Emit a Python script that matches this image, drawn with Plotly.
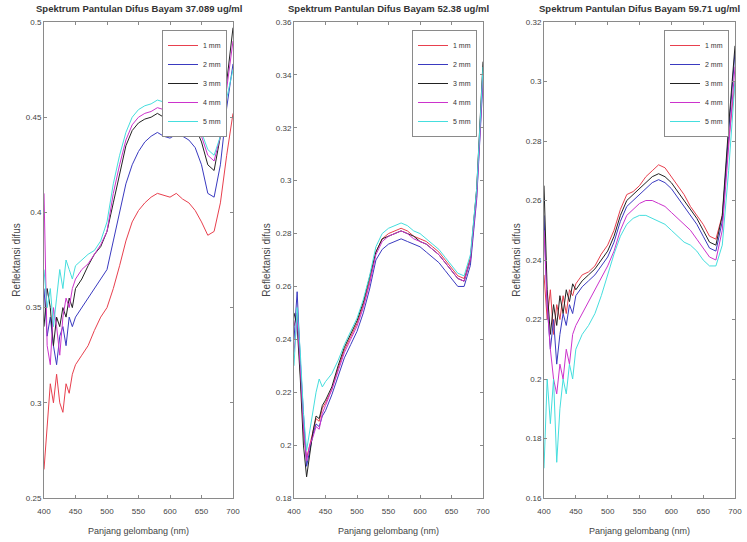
import plotly.graph_objects as go

wavelength = [400, 405, 410, 415, 420, 425, 430, 435, 440, 445, 450, 460, 470, 480, 490, 500,
              510, 520, 530, 540, 550, 560, 570, 580, 590, 600, 610, 620, 630, 640, 650, 660,
              670, 680, 690, 700]
series_names = ["1 mm", "2 mm", "3 mm", "4 mm", "5 mm"]
titles = ["Spektrum Pantulan Difus Bayam 37.089 ug/ml",
          "Spektrum Pantulan Difus Bayam 52.38 ug/ml",
          "Spektrum Pantulan Difus Bayam 59.71 ug/ml"]

# Panel 1 (37.089 ug/ml)
p1_1mm = [0.265, 0.29, 0.31, 0.30, 0.315, 0.30, 0.295, 0.31, 0.305, 0.315, 0.32, 0.325, 0.33, 0.338, 0.345, 0.35,
          0.36, 0.372, 0.385, 0.395, 0.401, 0.405, 0.408, 0.41, 0.409, 0.408, 0.41, 0.407, 0.405, 0.401, 0.395, 0.388,
          0.39, 0.405, 0.43, 0.452]
p1_2mm = [0.36, 0.335, 0.345, 0.33, 0.32, 0.335, 0.34, 0.33, 0.345, 0.34, 0.345, 0.35, 0.355, 0.36, 0.365, 0.37,
          0.385, 0.40, 0.415, 0.425, 0.432, 0.437, 0.44, 0.442, 0.44, 0.439, 0.441, 0.44, 0.438, 0.434, 0.425, 0.41,
          0.408, 0.425, 0.455, 0.478]
p1_3mm = [0.34, 0.36, 0.35, 0.33, 0.345, 0.34, 0.35, 0.345, 0.355, 0.35, 0.36, 0.365, 0.372, 0.378, 0.382, 0.39,
          0.405, 0.42, 0.435, 0.443, 0.447, 0.449, 0.45, 0.452, 0.45, 0.449, 0.451, 0.45, 0.448, 0.445, 0.437, 0.425,
          0.422, 0.44, 0.47, 0.497]
p1_4mm = [0.41, 0.33, 0.32, 0.35, 0.34, 0.325, 0.345, 0.355, 0.35, 0.36, 0.365, 0.37, 0.373, 0.378, 0.383, 0.39,
          0.41, 0.425, 0.438, 0.446, 0.45, 0.452, 0.453, 0.455, 0.454, 0.452, 0.455, 0.453, 0.451, 0.448, 0.44, 0.43,
          0.427, 0.44, 0.465, 0.49]
p1_5mm = [0.37, 0.35, 0.36, 0.34, 0.355, 0.37, 0.36, 0.375, 0.37, 0.365, 0.372, 0.375, 0.378, 0.38, 0.385, 0.395,
          0.415, 0.43, 0.442, 0.45, 0.454, 0.456, 0.457, 0.459, 0.458, 0.457, 0.458, 0.457, 0.455, 0.45, 0.442, 0.433,
          0.43, 0.44, 0.46, 0.475]

# Panel 2 (52.38 ug/ml)
p2_1mm = [0.245, 0.25, 0.228, 0.205, 0.195, 0.20, 0.206, 0.21, 0.209, 0.214, 0.216, 0.221, 0.229, 0.236, 0.241, 0.246,
          0.253, 0.262, 0.273, 0.278, 0.28, 0.281, 0.282, 0.281, 0.279, 0.278, 0.277, 0.275, 0.273, 0.27, 0.267, 0.264,
          0.263, 0.271, 0.296, 0.342]
p2_2mm = [0.24, 0.258, 0.232, 0.21, 0.192, 0.198, 0.204, 0.208, 0.207, 0.211, 0.213, 0.219, 0.226, 0.233, 0.238, 0.243,
          0.25, 0.259, 0.27, 0.274, 0.276, 0.277, 0.278, 0.277, 0.276, 0.275, 0.273, 0.271, 0.269, 0.266, 0.263, 0.26,
          0.26, 0.268, 0.293, 0.338]
p2_3mm = [0.25, 0.245, 0.225, 0.2, 0.188, 0.197, 0.205, 0.211, 0.21, 0.215, 0.217, 0.222, 0.23, 0.237, 0.242, 0.247,
          0.254, 0.263, 0.273, 0.278, 0.279, 0.28, 0.281, 0.28, 0.279, 0.277, 0.276, 0.274, 0.272, 0.269, 0.266, 0.263,
          0.262, 0.27, 0.297, 0.345]
p2_4mm = [0.235, 0.248, 0.23, 0.207, 0.194, 0.2, 0.203, 0.207, 0.206, 0.212, 0.215, 0.221, 0.228, 0.235, 0.24, 0.245,
          0.252, 0.261, 0.272, 0.277, 0.279, 0.28, 0.281, 0.28, 0.278, 0.277, 0.276, 0.274, 0.272, 0.269, 0.266, 0.263,
          0.262, 0.27, 0.294, 0.34]
p2_5mm = [0.23, 0.252, 0.235, 0.212, 0.198, 0.205, 0.212, 0.22, 0.225, 0.222, 0.224, 0.227, 0.232, 0.238, 0.243, 0.248,
          0.255, 0.264, 0.275, 0.28, 0.282, 0.283, 0.284, 0.283, 0.281, 0.28, 0.278, 0.276, 0.274, 0.271, 0.268, 0.265,
          0.264, 0.272, 0.297, 0.343]

# Panel 3 (59.71 ug/ml)
p3_1mm = [0.235, 0.22, 0.23, 0.215, 0.225, 0.22, 0.228, 0.222, 0.23, 0.228, 0.232, 0.235, 0.236, 0.238, 0.242, 0.245,
          0.25, 0.257, 0.262, 0.263, 0.265, 0.268, 0.27, 0.272, 0.271, 0.268, 0.265, 0.262, 0.258, 0.255, 0.252, 0.248,
          0.247, 0.255, 0.28, 0.30]
p3_2mm = [0.255, 0.225, 0.21, 0.22, 0.205, 0.215, 0.222, 0.218, 0.225, 0.222, 0.228, 0.231, 0.233, 0.235, 0.238, 0.241,
          0.246, 0.253, 0.258, 0.26, 0.262, 0.264, 0.266, 0.267, 0.266, 0.264, 0.261, 0.258, 0.255, 0.252, 0.248, 0.244,
          0.243, 0.253, 0.283, 0.31]
p3_3mm = [0.265, 0.23, 0.215, 0.225, 0.218, 0.228, 0.222, 0.23, 0.226, 0.232, 0.23, 0.233, 0.235, 0.237, 0.24, 0.243,
          0.248, 0.255, 0.26, 0.262, 0.264, 0.266, 0.268, 0.269, 0.268, 0.266, 0.263, 0.26, 0.257, 0.254, 0.25, 0.246,
          0.245, 0.255, 0.285, 0.312]
p3_4mm = [0.25, 0.225, 0.21, 0.2, 0.195, 0.205, 0.2, 0.21, 0.205, 0.215, 0.218, 0.222, 0.226, 0.23, 0.234, 0.238,
          0.243, 0.25, 0.255, 0.257, 0.259, 0.26, 0.26, 0.259, 0.258, 0.256, 0.254, 0.252, 0.25, 0.247, 0.244, 0.241,
          0.24, 0.25, 0.278, 0.305]
p3_5mm = [0.17, 0.2, 0.185, 0.2, 0.172, 0.19, 0.2, 0.195, 0.205, 0.2, 0.21, 0.215, 0.218, 0.222, 0.228, 0.235,
          0.242, 0.248, 0.252, 0.254, 0.255, 0.255, 0.254, 0.253, 0.252, 0.25, 0.248, 0.246, 0.245, 0.243, 0.24, 0.238,
          0.238, 0.245, 0.27, 0.30]

panels = [
    [p1_1mm, p1_2mm, p1_3mm, p1_4mm, p1_5mm],
    [p2_1mm, p2_2mm, p2_3mm, p2_4mm, p2_5mm],
    [p3_1mm, p3_2mm, p3_3mm, p3_4mm, p3_5mm],
]
y_ranges = [(0.25, 0.5), (0.18, 0.36), (0.16, 0.32)]
y_ticks = [
    [0.25, 0.3, 0.35, 0.4, 0.45, 0.5],
    [0.18, 0.2, 0.22, 0.24, 0.26, 0.28, 0.3, 0.32, 0.34, 0.36],
    [0.16, 0.18, 0.2, 0.22, 0.24, 0.26, 0.28, 0.3, 0.32],
]
x_ticks = [400, 450, 500, 550, 600, 650, 700]

colors = ["#e8404e", "#3a3ac0", "#222222", "#cc33cc", "#45dede"]

W, H = 747, 542
x_px = [(44, 233), (294, 483), (544, 735)]
y_top, y_bot = 22, 498
ydom = [1 - y_bot / H, 1 - y_top / H]
FONT = "Liberation Sans, Arial, sans-serif"

fig = go.Figure()
legend_keys = ["legend", "legend2", "legend3"]
for i, pdata in enumerate(panels):
    xa = "x" if i == 0 else f"x{i+1}"
    ya = "y" if i == 0 else f"y{i+1}"
    for j, vals in enumerate(pdata):
        fig.add_trace(go.Scatter(
            x=wavelength, y=vals, mode="lines", name=series_names[j],
            line=dict(color=colors[j], width=1),
            xaxis=xa, yaxis=ya, legend=legend_keys[i], showlegend=True))

axis_common = dict(showgrid=False, zeroline=False, showline=True, linecolor="#8a8a8a",
                   linewidth=1, mirror="ticks", ticks="inside", ticklen=3, tickcolor="#8a8a8a",
                   tickfont=dict(family=FONT, size=8, color="#444444"))
layout = dict(width=W, height=H, paper_bgcolor="white", plot_bgcolor="white",
              margin=dict(l=0, r=0, t=0, b=0, autoexpand=False))
annotations = []
for i in range(3):
    xk = "xaxis" if i == 0 else f"xaxis{i+1}"
    yk = "yaxis" if i == 0 else f"yaxis{i+1}"
    ya = "y" if i == 0 else f"y{i+1}"
    xa = "x" if i == 0 else f"x{i+1}"
    x0, x1 = x_px[i]
    layout[xk] = dict(domain=[x0 / W, x1 / W], range=[400, 700], tickvals=x_ticks,
                      anchor=ya, ticklabelstandoff=5, automargin=False,
                      title=dict(text="Panjang gelombang (nm)",
                                 font=dict(family=FONT, size=9, color="#444444"),
                                 standoff=13),
                      **axis_common)
    layout[yk] = dict(domain=ydom, range=list(y_ranges[i]), tickvals=y_ticks[i],
                      ticktext=[f"{v:g}" for v in y_ticks[i]], automargin=False,
                      anchor=xa, title=dict(text="Reflektansi difus",
                                            font=dict(family=FONT, size=10, color="#444444"),
                                            standoff=3),
                      **axis_common)
    annotations.append(dict(text=f"<b>{titles[i]}</b>", x=(x0 + x1) / 2 / W, y=1 - 9 / H,
                            xref="paper", yref="paper", showarrow=False,
                            xanchor="center", yanchor="middle",
                            font=dict(family=FONT, size=9.5, color="#333333")))
    layout[legend_keys[i]] = dict(x=(x1 - 6) / W, y=1 - 30 / H, xanchor="right", yanchor="top",
                                  bgcolor="white", bordercolor="#8a8a8a", borderwidth=1,
                                  font=dict(family=FONT, size=7, color="#333333"),
                                  tracegroupgap=0, itemwidth=30)
layout["annotations"] = annotations
fig.update_layout(**layout)

fig.write_html("out.html", config={"displayModeBar": False},
               post_script="document.body.style.margin='0';document.body.style.overflow='hidden';")
